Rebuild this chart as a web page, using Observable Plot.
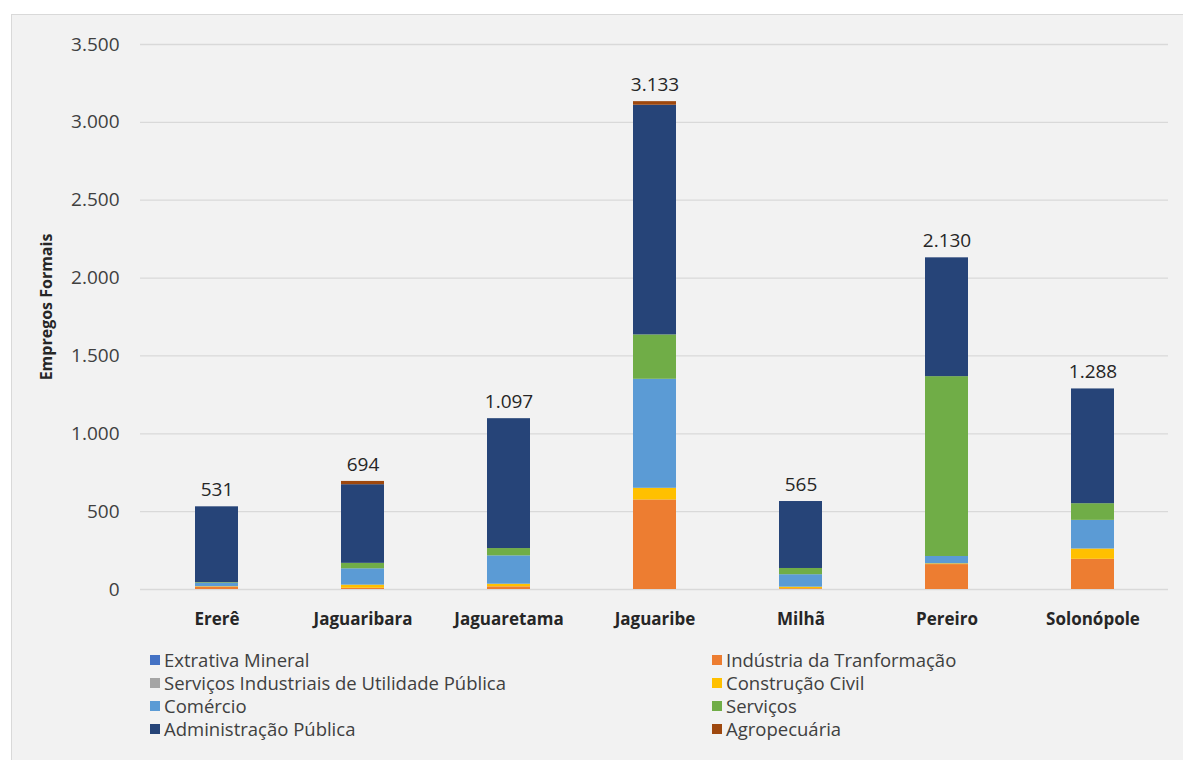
<!DOCTYPE html>
<html>
<head>
<meta charset="utf-8">
<script src="https://cdn.jsdelivr.net/npm/d3@7"></script>
<script src="https://cdn.jsdelivr.net/npm/@observablehq/plot@0.6"></script>
<style>
  html, body { margin: 0; padding: 0; background: #fff; }
  body { width: 1183px; height: 760px; position: relative; overflow: hidden; font-family: "Open Sans", sans-serif; }
  #frame { position: absolute; left: 11px; top: 14px; width: 1190px; height: 770px; background: #f2f2f2; border: 1px solid #d9d9d9; box-sizing: border-box; }
  #chart { position: absolute; left: 0; top: 0; }
  #chart g[aria-label="y-axis label"] text { font-size: 16px; font-weight: 700; fill: #262626; }
  #chart g[aria-label="y-axis label"] { translate: 0px -10px; }
  #legend { position: absolute; left: 150px; top: 650px; display: grid; grid-template-columns: 562px auto; row-gap: 4px; }
  .item { display: flex; align-items: center; height: 19px; line-height: 19px; font-size: 18.5px; color: #404040; white-space: nowrap; }
  .sw { display: inline-block; width: 10px; height: 10px; margin-right: 4px; }
</style>
</head>
<body>
<div id="frame"></div>
<div id="chart"></div>
<div id="legend"></div>
<script>
// Municípios e setores
const municipios = ["Ererê", "Jaguaribara", "Jaguaretama", "Jaguaribe", "Milhã", "Pereiro", "Solonópole"];
const setores = [
  "Extrativa Mineral",
  "Indústria da Tranformação",
  "Serviços Industriais de Utilidade Pública",
  "Construção Civil",
  "Comércio",
  "Serviços",
  "Administração Pública",
  "Agropecuária"
];
const cores = ["#4472C4", "#ED7D31", "#A5A5A5", "#FFC000", "#5B9BD5", "#70AD47", "#264478", "#9E480E"];

// Empregos formais por setor, na ordem dos municípios
const extrativaMineral = [0, 0, 0, 0, 0, 0, 0];
const industriaTransformacao = [15, 8, 17, 575, 5, 160, 194];
const servicosIndustriais = [0, 0, 0, 0, 0, 0, 0];
const construcaoCivil = [3, 20, 17, 75, 10, 5, 66];
const comercio = [22, 105, 182, 700, 80, 47, 184];
const servicos = [4, 35, 47, 285, 40, 1155, 107];
const administracaoPublica = [487, 505, 834, 1475, 430, 763, 737];
const agropecuaria = [0, 21, 0, 23, 0, 0, 0];

const yTicks = [0, 500, 1000, 1500, 2000, 2500, 3000, 3500];

const valoresPorSetor = [
  extrativaMineral, industriaTransformacao, servicosIndustriais, construcaoCivil,
  comercio, servicos, administracaoPublica, agropecuaria
];

const linhas = setores.flatMap((setor, i) =>
  municipios.map((municipio, j) => ({ municipio, setor, valor: valoresPorSetor[i][j] }))
);
const totais = municipios.map((municipio, j) => ({
  municipio,
  total: d3.sum(valoresPorSetor, v => v[j])
}));

const ptBR = d3.formatLocale({ decimal: ",", thousands: ".", grouping: [3], currency: ["R$", ""] });
const fmt = ptBR.format(",d");

const chart = Plot.plot({
  width: 1183,
  height: 640,
  marginLeft: 140,
  marginRight: 15,
  marginTop: 44,
  marginBottom: 51,
  style: { background: "transparent", fontFamily: "'Open Sans', sans-serif", overflow: "visible" },
  x: { domain: municipios, paddingInner: 0.707, paddingOuter: 0.3535, axis: null },
  y: { domain: [0, 3500], axis: null },
  color: { domain: setores, range: cores },
  marks: [
    Plot.gridY(yTicks, { stroke: "#d9d9d9", strokeOpacity: 1, strokeWidth: 1.3 }),
    Plot.axisY(yTicks, {
      tickSize: 0, tickPadding: 21, tickFormat: fmt, fontSize: 19, fill: "#404040",
      label: "Empregos Formais", labelAnchor: "center", labelArrow: "none", labelOffset: 100
    }),
    Plot.axisX({ tickSize: 0, tickPadding: 23, fontSize: 17, fontWeight: "bold", fill: "#262626", label: null }),
    Plot.barY(linhas, { x: "municipio", y: "valor", fill: "setor" }),
    Plot.text(totais, { x: "municipio", y: "total", text: d => fmt(d.total), dy: -17, fontSize: 19, fill: "#262626" })
  ]
});
document.getElementById("chart").appendChild(chart);

// Legenda em duas colunas
const legenda = document.getElementById("legend");
setores.forEach((setor, i) => {
  const item = document.createElement("div");
  item.className = "item";
  const sw = document.createElement("span");
  sw.className = "sw";
  sw.style.background = cores[i];
  item.appendChild(sw);
  item.appendChild(document.createTextNode(setor));
  legenda.appendChild(item);
});
</script>
</body>
</html>
